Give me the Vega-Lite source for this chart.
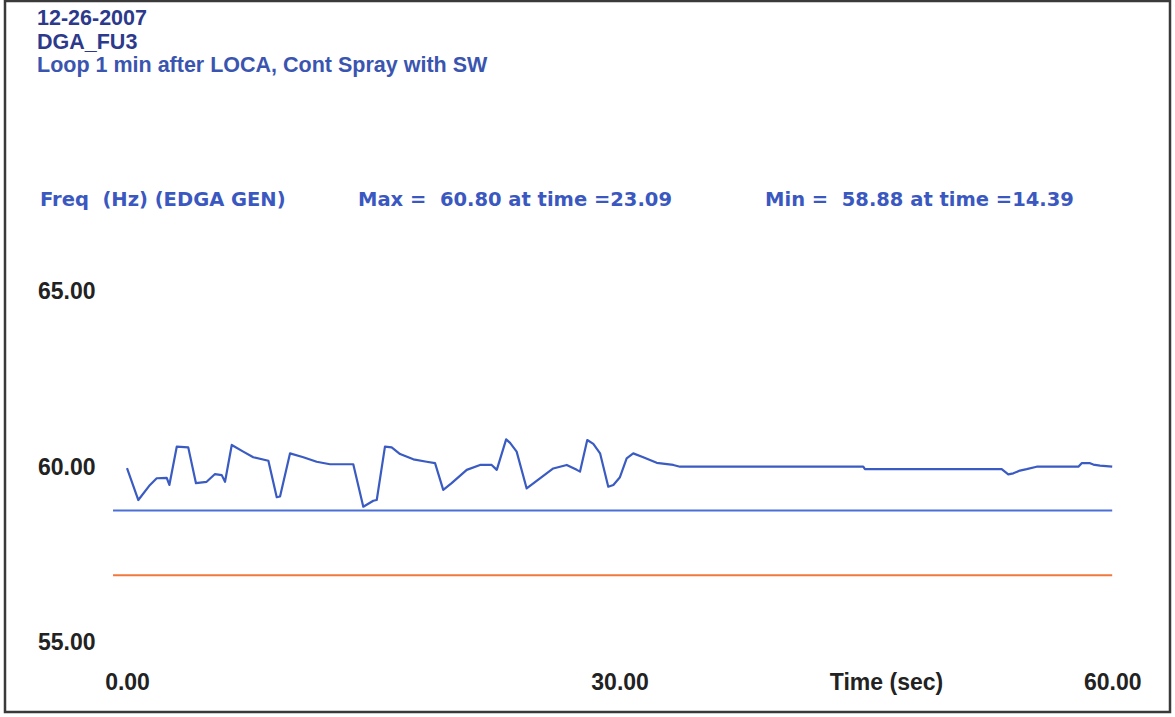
{
  "$schema": "https://vega.github.io/schema/vega-lite/v6.json",
  "width": 1165,
  "height": 711,
  "autosize": {"type": "none"},
  "padding": {"left": 5, "top": 1, "right": 5, "bottom": 5},
  "background": "#ffffff",
  "config": {
    "view": {"stroke": "#3a3a3a", "strokeWidth": 2.5},
    "axis": {"grid": false, "ticks": false, "domain": false, "labelOverlap": false, "labelFlush": false, "labelBound": false}
  },
  "title": {
    "text": ["12-26-2007", "DGA_FU3"],
    "subtitle": "Loop 1 min after LOCA, Cont Spray with SW",
    "anchor": "start",
    "frame": "group",
    "orient": "top",
    "offset": -75,
    "dx": 32,
    "font": "Liberation Sans",
    "fontSize": 21.5,
    "fontWeight": "bold",
    "color": "#2d3a8c",
    "lineHeight": 24,
    "subtitleFont": "Liberation Sans",
    "subtitleFontSize": 21.5,
    "subtitleFontWeight": "bold",
    "subtitleColor": "#3a55b0",
    "subtitlePadding": 1,
    "subtitleLineHeight": 23
  },
  "datasets": {
    "freq": [
      {"t": 0.0, "f": 59.98}, {"t": 0.69, "f": 59.07}, {"t": 1.4, "f": 59.5}, {"t": 1.81, "f": 59.69},
      {"t": 2.42, "f": 59.7}, {"t": 2.58, "f": 59.5}, {"t": 3.03, "f": 60.59}, {"t": 3.73, "f": 60.57},
      {"t": 4.2, "f": 59.55}, {"t": 4.85, "f": 59.59}, {"t": 5.36, "f": 59.81}, {"t": 5.77, "f": 59.78},
      {"t": 5.97, "f": 59.59}, {"t": 6.38, "f": 60.64}, {"t": 7.08, "f": 60.45}, {"t": 7.69, "f": 60.29},
      {"t": 8.61, "f": 60.19}, {"t": 9.12, "f": 59.15}, {"t": 9.32, "f": 59.17}, {"t": 9.93, "f": 60.4},
      {"t": 10.74, "f": 60.29}, {"t": 11.55, "f": 60.16}, {"t": 12.36, "f": 60.09}, {"t": 13.78, "f": 60.09},
      {"t": 14.39, "f": 58.88}, {"t": 15.0, "f": 59.05}, {"t": 15.21, "f": 59.07}, {"t": 15.71, "f": 60.59},
      {"t": 16.12, "f": 60.57}, {"t": 16.63, "f": 60.38}, {"t": 17.44, "f": 60.23}, {"t": 18.25, "f": 60.16},
      {"t": 18.76, "f": 60.12}, {"t": 19.26, "f": 59.36}, {"t": 19.77, "f": 59.55}, {"t": 20.69, "f": 59.93},
      {"t": 21.5, "f": 60.07}, {"t": 22.21, "f": 60.07}, {"t": 22.52, "f": 59.93}, {"t": 23.09, "f": 60.8},
      {"t": 23.33, "f": 60.7}, {"t": 23.73, "f": 60.45}, {"t": 24.34, "f": 59.4}, {"t": 25.15, "f": 59.69},
      {"t": 25.96, "f": 59.97}, {"t": 26.78, "f": 60.07}, {"t": 27.39, "f": 59.93}, {"t": 27.59, "f": 59.88},
      {"t": 28.03, "f": 60.78}, {"t": 28.4, "f": 60.67}, {"t": 28.81, "f": 60.4}, {"t": 29.31, "f": 59.45},
      {"t": 29.62, "f": 59.5}, {"t": 30.02, "f": 59.72}, {"t": 30.43, "f": 60.26}, {"t": 30.83, "f": 60.4},
      {"t": 31.44, "f": 60.29}, {"t": 32.26, "f": 60.13}, {"t": 33.27, "f": 60.07}, {"t": 33.68, "f": 60.02},
      {"t": 44.84, "f": 60.02}, {"t": 44.94, "f": 59.95}, {"t": 53.27, "f": 59.95}, {"t": 53.67, "f": 59.8},
      {"t": 53.98, "f": 59.83}, {"t": 54.38, "f": 59.91}, {"t": 54.79, "f": 59.95}, {"t": 55.4, "f": 60.02},
      {"t": 57.94, "f": 60.02}, {"t": 58.14, "f": 60.12}, {"t": 58.65, "f": 60.12}, {"t": 58.85, "f": 60.08},
      {"t": 59.26, "f": 60.05}, {"t": 60.0, "f": 60.02}
    ],
    "limits": [
      {"limit": "blue", "f": 58.77, "t": -0.85, "t2": 60},
      {"limit": "orange", "f": 56.93, "t": -0.85, "t2": 60}
    ],
    "stats": [
      {"series": "Freq\u00a0 (Hz) (EDGA GEN)", "max": 60.80, "tmax": 23.09, "min": 58.88, "tmin": 14.39}
    ]
  },
  "layer": [
    {
      "data": {"name": "freq"},
      "mark": {"type": "line", "color": "#3a5bc2", "strokeWidth": 2.2, "interpolate": "linear", "strokeJoin": "round"},
      "encoding": {
        "x": {
          "field": "t", "type": "quantitative",
          "scale": {"domain": [-7.43, 63.52], "nice": false, "zero": false},
          "axis": {
            "orient": "bottom", "values": [0, 30, 60], "format": ".2f",
            "labelFont": "Liberation Sans", "labelFontSize": 23, "labelFontWeight": "bold", "labelColor": "#222222",
            "labelBaseline": "middle", "labelPadding": -30, "labelDx": 6, "labelAngle": 0,
            "title": "Time (sec)", "titleFont": "Liberation Sans", "titleFontSize": 23, "titleFontWeight": "bold",
            "titleColor": "#222222", "titleX": 881, "titleY": -30, "titleAlign": "center", "titleBaseline": "middle", "titleAngle": 0
          }
        },
        "y": {
          "field": "f", "type": "quantitative",
          "scale": {"domain": [53.03, 73.29], "nice": false, "zero": false},
          "axis": {
            "orient": "left", "values": [55, 60, 65], "format": ".2f",
            "labelFont": "Liberation Sans", "labelFontSize": 23, "labelFontWeight": "bold", "labelColor": "#222222",
            "labelAlign": "right", "labelBaseline": "middle", "labelPadding": -90, "labelDy": -1,
            "title": null
          }
        }
      }
    },
    {
      "data": {"name": "limits"},
      "mark": {"type": "rule", "strokeWidth": 2},
      "encoding": {
        "x": {"field": "t", "type": "quantitative"},
        "x2": {"field": "t2"},
        "y": {"field": "f", "type": "quantitative"},
        "color": {"field": "limit", "type": "nominal", "scale": {"domain": ["blue", "orange"], "range": ["#4a6fd6", "#f0783c"]}, "legend": null}
      }
    },
    {
      "data": {"name": "stats"},
      "mark": {"type": "text", "align": "left", "baseline": "alphabetic", "font": "DejaVu Sans", "fontSize": 19.5, "fontWeight": "bold", "color": "#3a58c0"},
      "encoding": {
        "x": {"datum": -5.3, "type": "quantitative"},
        "y": {"datum": 67.45, "type": "quantitative"},
        "text": {"field": "series"}
      }
    },
    {
      "data": {"name": "stats"},
      "mark": {"type": "text", "align": "left", "baseline": "alphabetic", "font": "DejaVu Sans", "fontSize": 19.5, "fontWeight": "bold", "color": "#3a58c0"},
      "encoding": {
        "x": {"datum": 14.07, "type": "quantitative"},
        "y": {"datum": 67.45, "type": "quantitative"},
        "text": {"value": "Max =\u00a0 60.80 at time =23.09"}
      }
    },
    {
      "data": {"name": "stats"},
      "mark": {"type": "text", "align": "left", "baseline": "alphabetic", "font": "DejaVu Sans", "fontSize": 19.5, "fontWeight": "bold", "color": "#3a58c0"},
      "encoding": {
        "x": {"datum": 38.86, "type": "quantitative"},
        "y": {"datum": 67.45, "type": "quantitative"},
        "text": {"value": "Min =\u00a0 58.88 at time =14.39"}
      }
    }
  ]
}
